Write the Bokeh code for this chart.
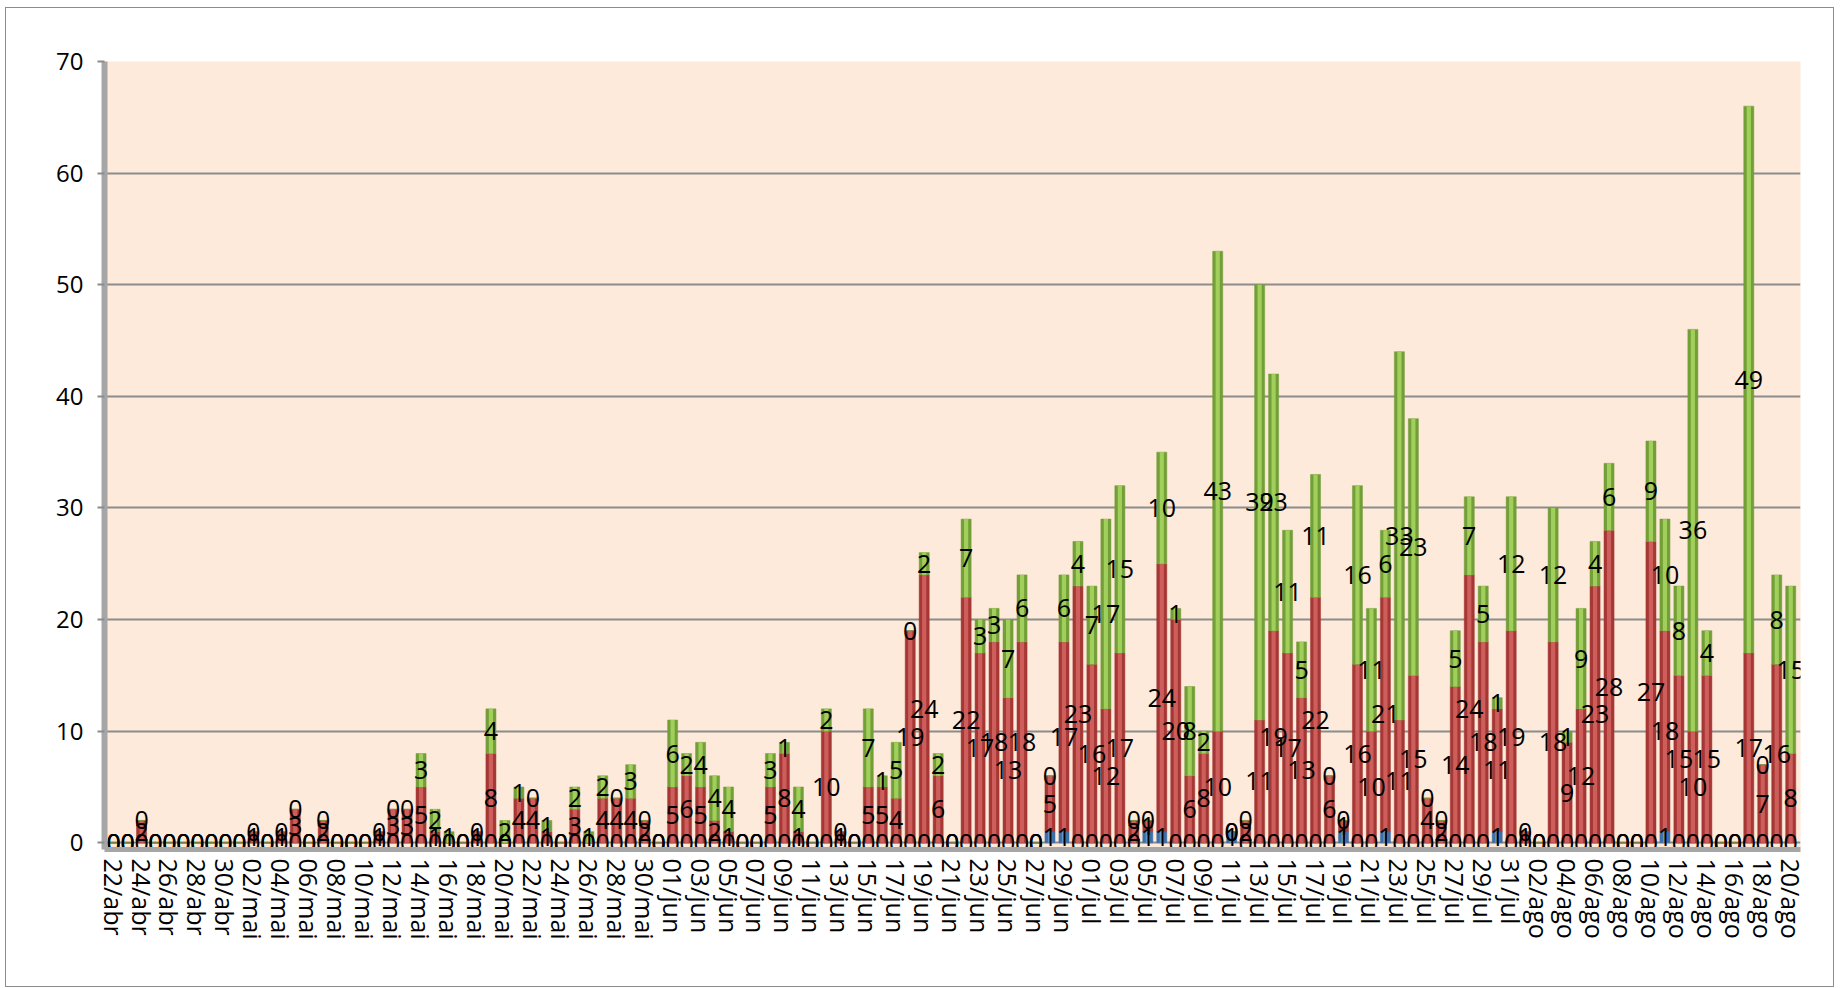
from bokeh.plotting import figure
from bokeh.models import Range1d, FixedTicker, ColumnDataSource
from bokeh.core.properties import value
from bokeh.embed import file_html
from bokeh.resources import INLINE

# ---- categories: daily dates 22/abr .. 20/ago ----
month_spans = [("abr", 22, 30), ("mai", 1, 31), ("jun", 1, 30), ("jul", 1, 31), ("ago", 1, 20)]
dates = [f"{d:02d}/{m}" for m, a, b in month_spans for d in range(a, b + 1)]

# ---- series values (bottom -> top of each stack) ----
blue = [0, 0, 0, 0, 0, 0, 0, 0, 0, 0,   0, 0, 0, 0, 0, 0, 0, 0, 0, 0,
        0, 0, 0, 0, 0, 0, 0, 0, 0, 0,   0, 0, 0, 0, 0, 0, 0, 0, 0, 0,
        0, 0, 0, 0, 0, 0, 0, 0, 0, 0,   0, 0, 0, 0, 0, 0, 0, 0, 0, 0,
        0, 0, 0, 0, 0, 0, 0, 1, 1, 0,   0, 0, 0, 0, 1, 1, 0, 0, 0, 0,
        1, 0, 0, 0, 0, 0, 0, 0, 1, 0,   0, 1, 0, 0, 0, 0, 0, 0, 0, 1,
        0, 0, 0, 0, 0, 0, 0, 0, 0, 0,   0, 1, 0, 0, 0, 0, 0, 0, 0, 0,
        0]
red = [0, 0, 2, 0, 0, 0, 0, 0, 0, 0,   1, 0, 1, 3, 0, 2, 0, 0, 0, 1,
       3, 3, 5, 1, 0, 0, 1, 8, 0, 4,   4, 1, 0, 3, 0, 4, 4, 4, 2, 0,
       5, 6, 5, 2, 1, 0, 0, 5, 8, 1,   0, 10, 1, 0, 5, 5, 4, 19, 24, 6,
       0, 22, 17, 18, 13, 18, 0, 5, 17, 23,   16, 12, 17, 2, 1, 24, 20, 6, 8, 10,
       0, 2, 11, 19, 17, 13, 22, 6, 1, 16,   10, 21, 11, 15, 4, 2, 14, 24, 18, 11,
       19, 1, 0, 18, 9, 12, 23, 28, 0, 0,   27, 18, 15, 10, 15, 0, 0, 17, 7, 16,
       8]
green = [0, 0, 0, 0, 0, 0, 0, 0, 0, 0,   0, 0, 0, 0, 0, 0, 0, 0, 0, 0,
         0, 0, 3, 2, 1, 0, 0, 4, 2, 1,   0, 1, 0, 2, 1, 2, 0, 3, 0, 0,
         6, 2, 4, 4, 4, 0, 0, 3, 1, 4,   0, 2, 0, 0, 7, 1, 5, 0, 2, 2,
         0, 7, 3, 3, 7, 6, 0, 0, 6, 4,   7, 17, 15, 0, 0, 10, 1, 8, 2, 43,
         0, 0, 39, 23, 11, 5, 11, 0, 0, 16,   11, 6, 33, 23, 0, 0, 5, 7, 5, 1,
         12, 0, 0, 12, 1, 9, 4, 6, 0, 0,   9, 10, 8, 36, 4, 0, 0, 49, 0, 8,
         15]

y_ticks = [0, 10, 20, 30, 40, 50, 60, 70]

FONT = "Open Sans"
n = len(dates)
xs = list(range(n))
b0 = [0] * n
b1 = [blue[i] for i in range(n)]
b2 = [blue[i] + red[i] for i in range(n)]
b3 = [blue[i] + red[i] + green[i] for i in range(n)]

src = ColumnDataSource(dict(
    x=xs, b0=b0, b1=b1, b2=b2, b3=b3,
    lb=[(b0[i] + b1[i]) / 2 for i in range(n)],
    lr=[(b1[i] + b2[i]) / 2 for i in range(n)],
    lg=[(b2[i] + b3[i]) / 2 for i in range(n)],
    tb=[str(v) for v in blue], tr=[str(v) for v in red], tg=[str(v) for v in green],
))

p = figure(width=1829, height=980, output_backend="svg", toolbar_location=None,
           x_range=Range1d(-0.65, 120.7), y_range=Range1d(-0.6, 70),
           min_border_left=98, min_border_right=35, min_border_top=53, min_border_bottom=139,
           background_fill_color="#FDEADA", border_fill_color="white")
p.outline_line_color = None
p.margin = (7, 0, 0, 5)
p.styles = {"border": "1.5px solid #8C8C8C"}

series = [("b0", "b1", "#3F6EA6", "#6095D0"),
          ("b1", "b2", "#A53735", "#CD5E5B"),
          ("b2", "b3", "#739E38", "#A0CF5B")]
for bot, top, dark, light in series:
    p.vbar(x="x", bottom=bot, top=top, width=0.72, source=src,
           fill_color=dark, line_color=dark, line_width=0.5)
    p.vbar(x="x", bottom=bot, top=top, width=0.3, source=src,
           fill_color=light, line_color=None)

for ycol, tcol in [("lb", "tb"), ("lr", "tr"), ("lg", "tg")]:
    p.text(x="x", y=ycol, text=tcol, source=src, text_font=value(FONT),
           text_font_size="25px", text_color="black",
           text_align="center", text_baseline="middle")

# y axis (left wall look)
p.yaxis.ticker = FixedTicker(ticks=y_ticks)
p.yaxis.axis_line_color = "#A6A6A6"
p.yaxis.axis_line_width = 6
p.yaxis.major_tick_line_color = "#8C8C8C"
p.yaxis.major_tick_line_width = 2
p.yaxis.major_tick_out = 7
p.yaxis.major_tick_in = 0
p.yaxis.minor_tick_line_color = None
p.yaxis.major_label_text_font = FONT
p.yaxis.major_label_text_font_size = "24px"
p.yaxis.major_label_text_color = "black"
p.yaxis.major_label_standoff = 14

# x axis (floor look)
p.xaxis.ticker = FixedTicker(ticks=xs[::2])
p.xaxis.major_label_overrides = {i: dates[i] for i in xs}
p.xaxis.major_label_orientation = "vertical"
p.xaxis.axis_line_color = "#A6A6A6"
p.xaxis.axis_line_width = 5
p.xaxis.major_tick_line_color = None
p.xaxis.minor_tick_line_color = None
p.xaxis.major_label_text_font = FONT
p.xaxis.major_label_text_font_size = "25px"
p.xaxis.major_label_text_color = "black"
p.xaxis.major_label_standoff = 3

p.xgrid.grid_line_color = None
p.ygrid.ticker = FixedTicker(ticks=y_ticks)
p.ygrid.grid_line_color = "#8C8C8C"
p.ygrid.grid_line_width = 2

open("out.html", "w").write(file_html(p, INLINE))
